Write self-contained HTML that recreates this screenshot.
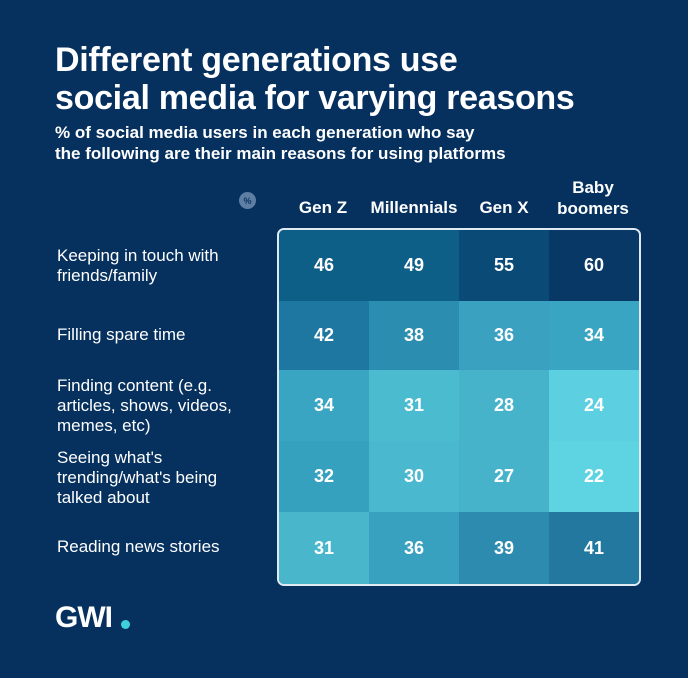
<!DOCTYPE html>
<html><head><style>
body{margin:0;width:688px;height:678px;background:#06315f;font-family:"Liberation Sans",sans-serif;color:#fff;position:relative;overflow:hidden}
.t{position:absolute;left:55px;top:41px;font-size:34px;font-weight:bold;line-height:38px;letter-spacing:-0.3px}
.s{position:absolute;left:55px;top:122px;font-size:17px;font-weight:bold;line-height:21px}
.h{position:absolute;font-size:17px;font-weight:bold;text-align:center;width:110px;line-height:21px}
.l{position:absolute;left:57px;font-size:17px;line-height:20px}
.grid{position:absolute;left:277px;top:228px;width:360px;height:354px;border:2px solid #dfeaf3;border-radius:7px;overflow:hidden;display:grid;grid-template-columns:repeat(4,90px);grid-template-rows:71px 69px 71px 71px 72px}
.grid div{display:flex;align-items:center;justify-content:center;font-weight:bold;font-size:18px}
</style></head><body>
<div class="t">Different generations use<br>social media for varying reasons</div>
<div class="s">% of social media users in each generation who say<br>the following are their main reasons for using platforms</div>
<div style="position:absolute;left:239px;top:192px;width:17px;height:17px;border-radius:50%;background:#5e7fa3;font-size:9px;display:flex;align-items:center;justify-content:center;color:#0a3560;font-weight:bold">%</div>
<div class="h" style="left:268px;top:197px">Gen Z</div>
<div class="h" style="left:359px;top:197px">Millennials</div>
<div class="h" style="left:449px;top:197px">Gen X</div>
<div class="h" style="left:538px;top:177px">Baby<br>boomers</div>
<div class="l" style="top:246px">Keeping in touch with<br>friends/family</div>
<div class="l" style="top:325px">Filling spare time</div>
<div class="l" style="top:376px">Finding content (e.g.<br>articles, shows, videos,<br>memes, etc)</div>
<div class="l" style="top:448px">Seeing what's<br>trending/what's being<br>talked about</div>
<div class="l" style="top:537px">Reading news stories</div>
<div class="grid">
<div style="background:#0e5f87">46</div><div style="background:#0e5f87">49</div><div style="background:#0a4a77">55</div><div style="background:#073866">60</div>
<div style="background:#1e77a0">42</div><div style="background:#2b8db0">38</div><div style="background:#3aa1c0">36</div><div style="background:#3aa5c2">34</div>
<div style="background:#3aa5c2">34</div><div style="background:#4bbbd0">31</div><div style="background:#47b3ca">28</div><div style="background:#5cd0e0">24</div>
<div style="background:#36a0bf">32</div><div style="background:#4ab8ce">30</div><div style="background:#47b3ca">27</div><div style="background:#5ed4e3">22</div>
<div style="background:#49b6cc">31</div><div style="background:#39a1c0">36</div><div style="background:#2c8bae">39</div><div style="background:#22789f">41</div>
</div>
<div style="position:absolute;left:55px;top:601px;font-size:30px;font-weight:bold;letter-spacing:-1px">GWI</div>
<div style="position:absolute;left:121px;top:620px;width:9px;height:9px;border-radius:50%;background:#3fd0de"></div>
</body></html>
